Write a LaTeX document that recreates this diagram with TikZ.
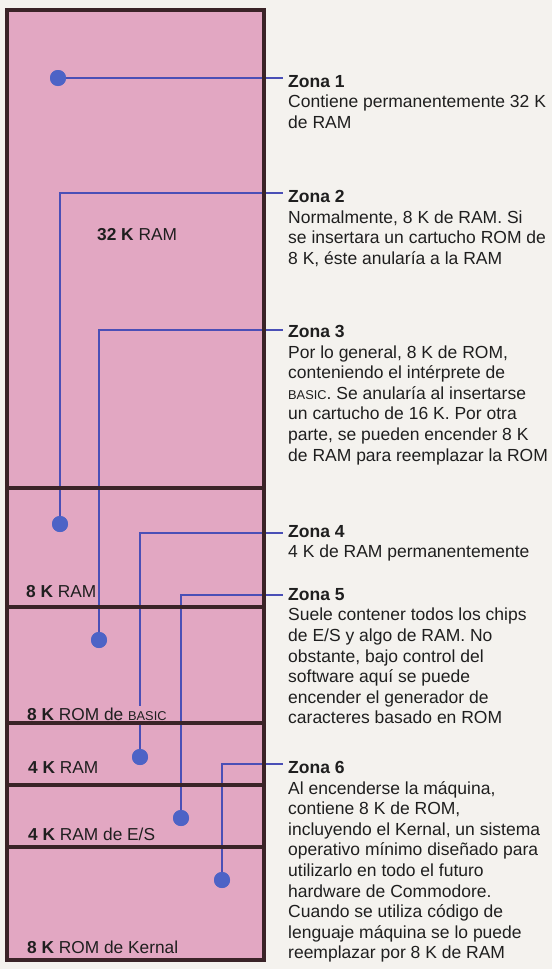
\documentclass[tikz,border=0pt]{standalone}
\usepackage{fontspec}
\setmainfont{Liberation Sans}
\usepackage{xcolor}
\usetikzlibrary{positioning}
\definecolor{pagebg}{HTML}{F4F2EE}
\definecolor{mempink}{HTML}{E2A7C2}
\definecolor{wireblue}{HTML}{4A4FB6}
\definecolor{dotblue}{HTML}{4D63C6}
\definecolor{edgebrown}{HTML}{3A2327}
\newcommand{\smallcaps}[1]{{\fontsize{12.8}{12.8}\selectfont #1}}

\begin{document}
\begin{tikzpicture}[x=1pt,y=-1pt,
  wire/.style={wireblue,line width=1.8pt},
  dot/.style={circle,fill=dotblue,inner sep=0pt,minimum size=16pt},
  zone/.style={inner xsep=5pt,inner ysep=0pt,align=left,text=black!88,
    font=\fontsize{17.5}{20.6}\selectfont},
  blk/.style={anchor=base west,inner sep=1.5pt,fill=mempink,text=black!88,
    font=\fontsize{17.3}{20}\selectfont}]
\useasboundingbox (0,0) rectangle (552,969);
\fill[pagebg] (0,0) rectangle (552,969);
\fill[mempink] (7,10) rectangle (264,960);

% tick ends beside the texts
\coordinate (t1) at (283,78);
\coordinate (t2) at (283,193);
\coordinate (t3) at (283,330);
\coordinate (t4) at (283,533);
\coordinate (t5) at (283,595);
\coordinate (t6) at (283,764);

% the dots
\node[dot] (d1) at (58,78) {};
\node[dot] (d2) at (60,524) {};
\node[dot] (d3) at (99,640) {};
\node[dot] (d4) at (140,757) {};
\node[dot] (d5) at (181,818) {};
\node[dot] (d6) at (222,880) {};

\foreach \i in {1,...,6}
  \draw[wire] (d\i.center) |- (t\i);

% blocks of the map
\node[blk] (ram32) at (95.5,240) {\textbf{32 K} RAM};
\node[blk] (ram8) at (24.5,597) {\textbf{8 K} RAM};
\node[blk] (basic) at (25.5,720) {\textbf{8 K} ROM de \smallcaps{BASIC}};
\node[blk] (ram4) at (26.5,773) {\textbf{4 K} RAM};
\node[blk] (io) at (26.5,840) {\textbf{4 K} RAM de E/S};
\node[blk] (kernal) at (25.5,953) {\textbf{8 K} ROM de Kernal};

\foreach \yy in {488,607,723,785,847}
  \draw[edgebrown,line width=3.5pt] (7,\yy) -- (264,\yy);
\draw[edgebrown,line width=4pt] (7,10) rectangle (264,960);

\foreach \i in {1,...,6}
  \fill[dotblue] (d\i) circle (8);

% the texts
\node[zone,below right=-3pt and 0pt of t1] (z1) {\textbf{Zona 1}\\
  Contiene permanentemente 32 K\\de RAM};
\node[zone,below right=-3pt and 0pt of t2] (z2) {\textbf{Zona 2}\\
  Normalmente, 8 K de RAM. Si\\se insertara un cartucho ROM de\\
  8 K, éste anularía a la RAM};
\node[zone,below right=-5pt and 0pt of t3] (z3) {\textbf{Zona 3}\\
  Por lo general, 8 K de ROM,\\conteniendo el intérprete de\\
  \smallcaps{BASIC}. Se anularía al insertarse\\un cartucho de 16 K. Por otra\\
  parte, se pueden encender 8 K\\de RAM para reemplazar la ROM};
\node[zone,below right=-8pt and 0pt of t4] (z4) {\textbf{Zona 4}\\
  4 K de RAM permanentemente};
\node[zone,below right=-7pt and 0pt of t5] (z5) {\textbf{Zona 5}\\
  Suele contener todos los chips\\de E/S y algo de RAM. No\\
  obstante, bajo control del\\software aquí se puede\\
  encender el generador de\\caracteres basado en ROM};
\node[zone,below right=-3pt and 0pt of t6] (z6) {\textbf{Zona 6}\\
  Al encenderse la máquina,\\contiene 8 K de ROM,\\
  incluyendo el Kernal, un sistema\\operativo mínimo diseñado para\\
  utilizarlo en todo el futuro\\hardware de Commodore.\\
  Cuando se utiliza código de\\lenguaje máquina se lo puede\\
  reemplazar por 8 K de RAM};
\end{tikzpicture}
\end{document}
